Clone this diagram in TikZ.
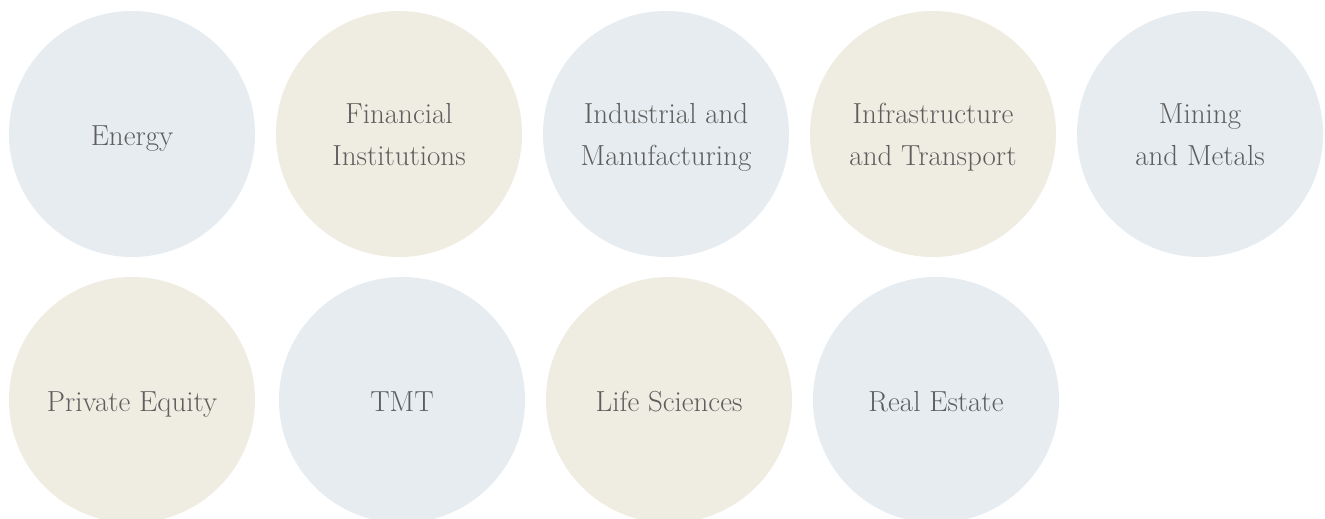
\documentclass[tikz,border=0pt]{standalone}
\usepackage{xcolor}
\definecolor{mist}{HTML}{E7ECF0}
\definecolor{sand}{HTML}{EFEDE1}
\definecolor{ink}{HTML}{5E5E5E}
\begin{document}
\begin{tikzpicture}[x=1pt,y=-1pt,
  disc/.style={circle,minimum size=246pt,inner sep=0pt,draw=none},
  bluedisc/.style={disc,fill=mist},
  sanddisc/.style={disc,fill=sand},
  word/.style={anchor=base,inner sep=0pt,text=ink,font=\fontsize{29}{42}\selectfont}]
\useasboundingbox (0,0) rectangle (1325,519);
\clip (0,0) rectangle (1325,519);
\fill[white] (0,0) rectangle (1325,519);

% first row
\node[bluedisc] (energy) at (132,134) {};
\node[sanddisc] (fin)    at (399,134) {};
\node[bluedisc] (ind)    at (666,134) {};
\node[sanddisc] (infra)  at (933,134) {};
\node[bluedisc] (mining) at (1200,134) {};

% second row
\node[sanddisc] (pe)   at (132,400) {};
\node[bluedisc] (tmt)  at (402,400) {};
\node[sanddisc] (life) at (669,400) {};
\node[bluedisc] (real) at (936,400) {};

% labels: single lines sit 11pt below the centre,
% two-line labels have baselines 11pt above and 31pt below it
\node[word] (energyT) at ([yshift=-11pt]energy.center) {Energy};
\node[word] (finA) at ([yshift=11pt]fin.center) {Financial};
\node[word] (finB) at ([yshift=-31pt]fin.center) {Institutions};
\node[word] (indA) at ([yshift=11pt]ind.center) {Industrial and};
\node[word] (indB) at ([yshift=-31pt]ind.center) {Manufacturing};
\node[word] (infraA) at ([yshift=11pt]infra.center) {Infrastructure};
\node[word] (infraB) at ([yshift=-31pt]infra.center) {and Transport};
\node[word] (miningA) at ([yshift=11pt]mining.center) {Mining};
\node[word] (miningB) at ([yshift=-31pt]mining.center) {and Metals};

\node[word] (peT)   at ([yshift=-11pt]pe.center)   {Private Equity};
\node[word] (tmtT)  at ([yshift=-11pt]tmt.center)  {TMT};
\node[word] (lifeT) at ([yshift=-11pt]life.center) {Life Sciences};
\node[word] (realT) at ([yshift=-11pt]real.center) {Real Estate};
\end{tikzpicture}
\end{document}
